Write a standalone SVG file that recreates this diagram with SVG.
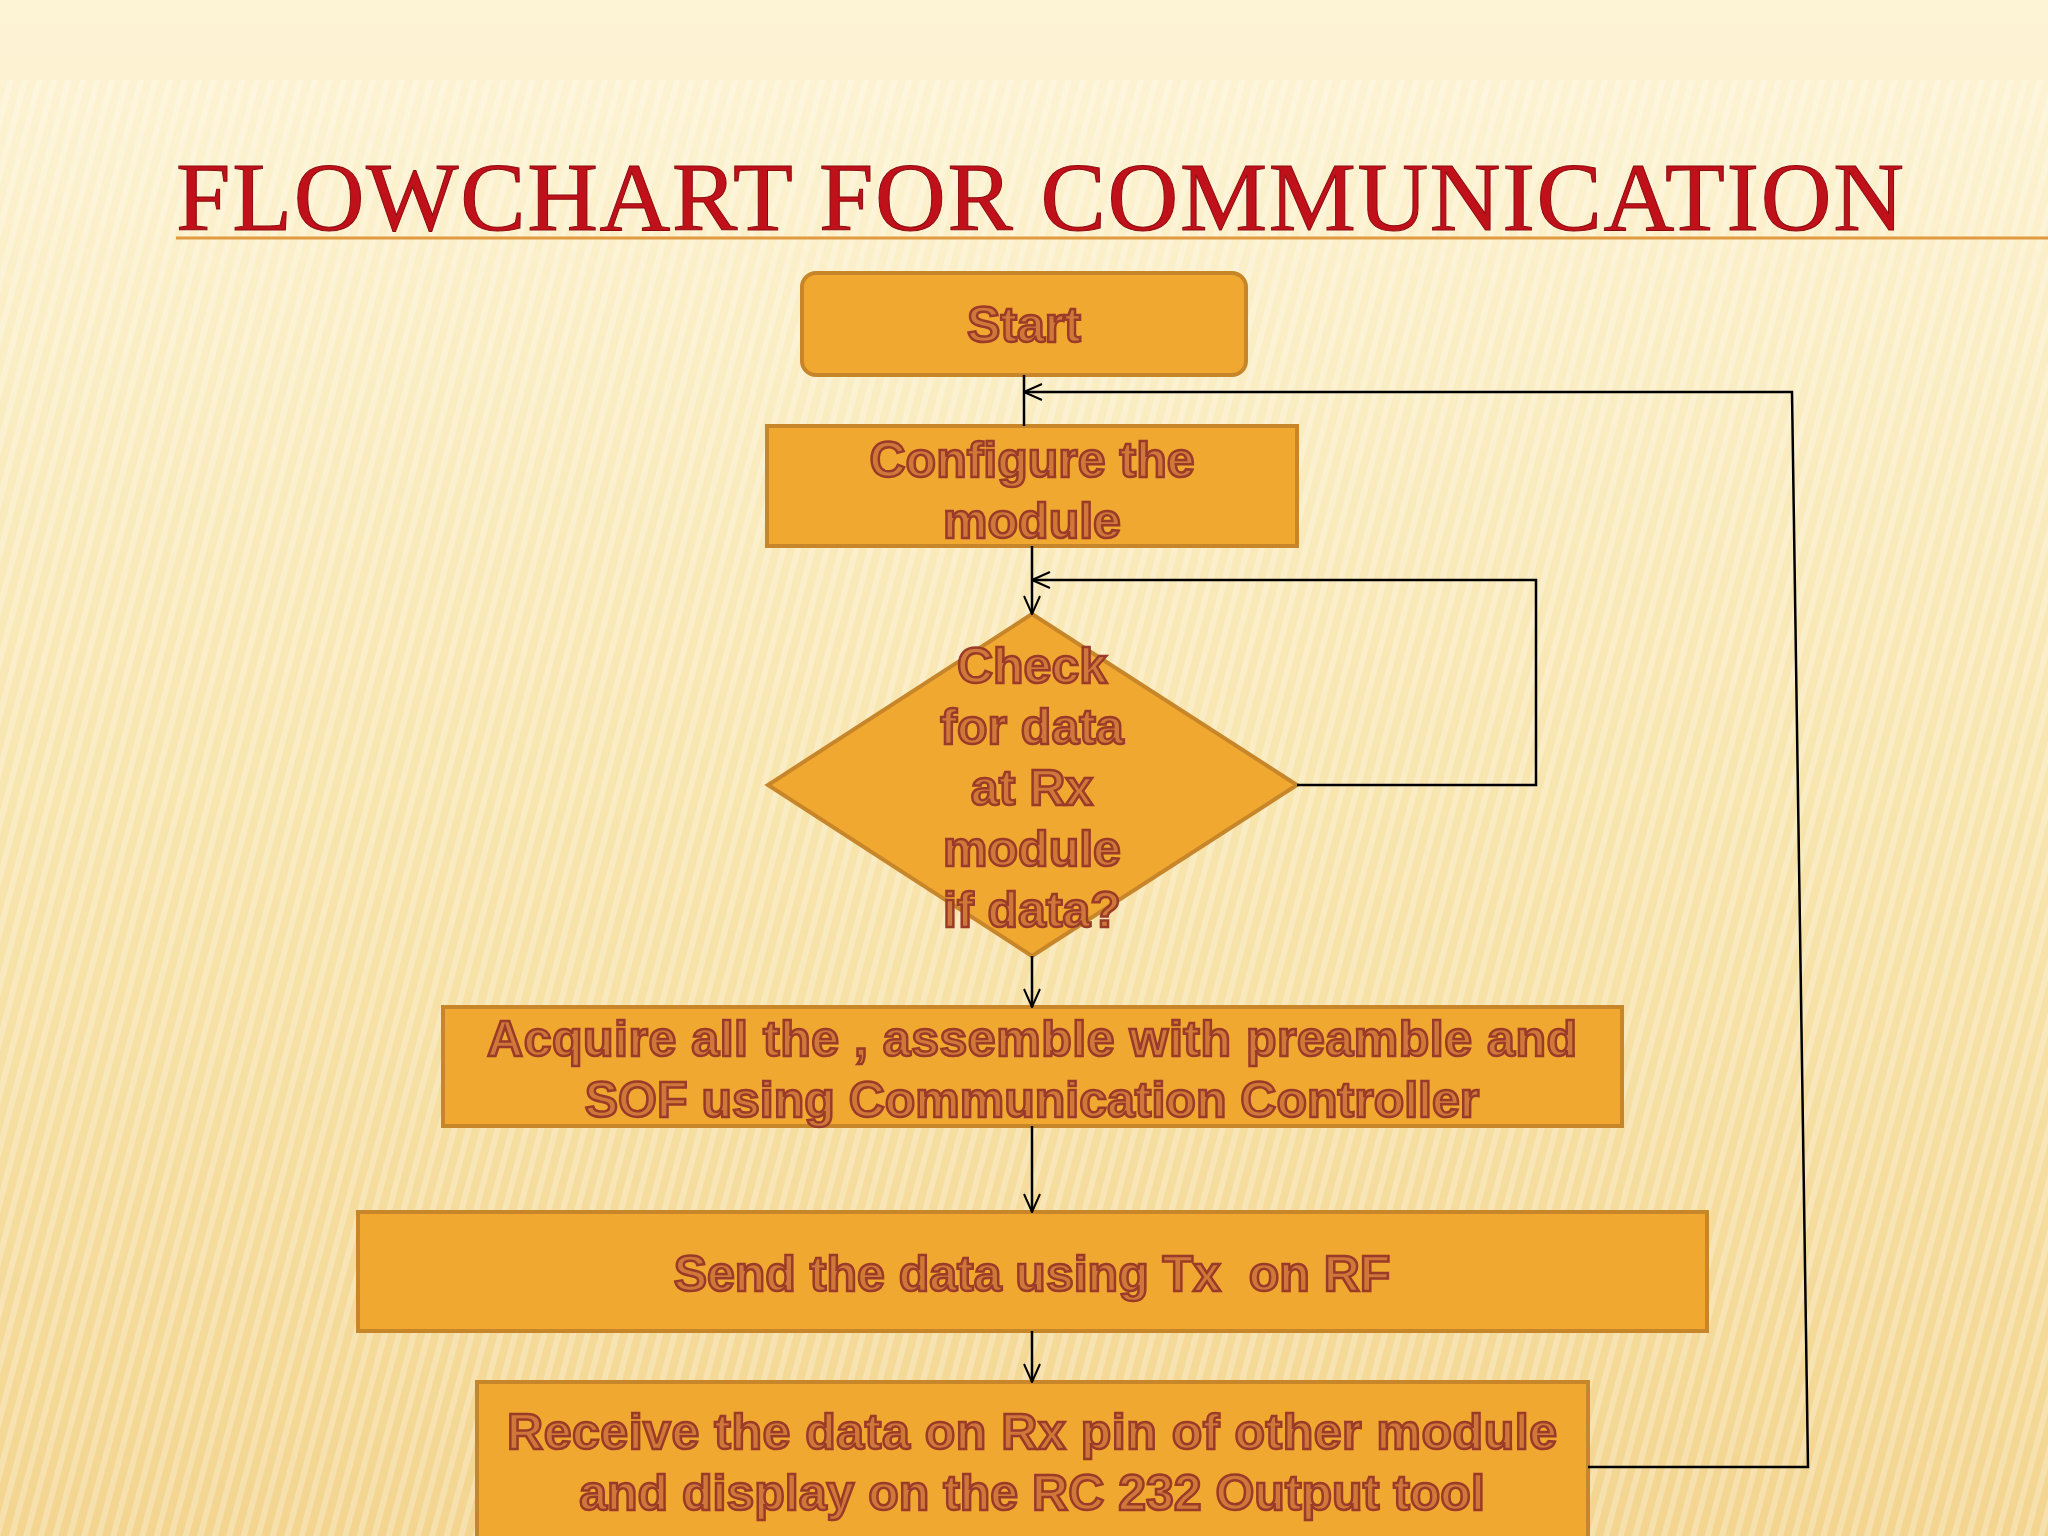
<svg xmlns="http://www.w3.org/2000/svg" width="2048" height="1536" viewBox="0 0 2048 1536">
<defs>
<linearGradient id="bg" x1="0" y1="0" x2="0" y2="1">
<stop offset="0" stop-color="#fdf4d6"/><stop offset="0.5" stop-color="#f8e6b0"/><stop offset="1" stop-color="#f3d590"/>
</linearGradient>
<pattern id="stripes" width="14" height="14" patternUnits="userSpaceOnUse" patternTransform="rotate(15)">
<rect width="6" height="14" fill="#ffffff" opacity="0.25"/>
</pattern>
<marker id="ah" viewBox="0 0 20 20" refX="19" refY="10" markerWidth="20" markerHeight="20" markerUnits="userSpaceOnUse" orient="auto">
<path d="M1,2 L19,10 L1,18" fill="none" stroke="#000" stroke-width="2"/>
</marker>
<style>
.box{fill:#f0a830;stroke:#c8862a;stroke-width:4}
.t{font-family:"Liberation Sans",Arial,sans-serif;font-weight:bold;font-size:50px;fill:#d0783a;stroke:#9a3a28;stroke-width:2.5;text-anchor:middle}
.c{fill:none;stroke:#000;stroke-width:2.5}
</style>
</defs>
<rect width="2048" height="1536" fill="url(#bg)"/>
<rect y="80" width="2048" height="1456" fill="url(#stripes)"/>
<line x1="176" y1="238" x2="2048" y2="238" stroke="#e09a40" stroke-width="3"/>
<text x="1040" y="230" text-anchor="middle" font-family="Liberation Serif,serif" font-size="98" fill="#c0101a" stroke="#8a0a10" stroke-width="1" textLength="1728">FLOWCHART FOR COMMUNICATION</text>
<g id="start"><rect class="box" x="802" y="273" width="444" height="102" rx="14"/><text class="t" x="1024" y="342">Start</text></g>
<g id="configure"><rect class="box" x="767" y="426" width="530" height="120"/><text class="t" x="1032" y="477">Configure the</text><text class="t" x="1032" y="538">module</text></g>
<g id="check"><polygon class="box" points="1032,614 1297,785 1032,956 768,785"/>
<text class="t" x="1032" y="683">Check</text><text class="t" x="1032" y="744">for data</text><text class="t" x="1032" y="805">at Rx</text><text class="t" x="1032" y="866">module</text><text class="t" x="1032" y="927">if data?</text></g>
<g id="acquire"><rect class="box" x="443" y="1007" width="1179" height="119"/><text class="t" x="1032" y="1056" textLength="1090">Acquire all the , assemble with preamble and</text><text class="t" x="1032" y="1117">SOF using Communication Controller</text></g>
<g id="send"><rect class="box" x="358" y="1212" width="1349" height="119"/><text class="t" x="1032" y="1291" xml:space="preserve">Send the data using Tx  on RF</text></g>
<g id="receive"><rect class="box" x="477" y="1382" width="1111" height="160"/><text class="t" x="1032" y="1449" textLength="1050">Receive the data on Rx pin of other module</text><text class="t" x="1032" y="1510">and display on the RC 232 Output tool</text></g>
<g id="connectors">
<line class="c" x1="1024" y1="375" x2="1024" y2="426"/>
<polyline class="c" points="1588,1467 1808,1467 1792,392 1024,392" marker-end="url(#ah)"/>
<line class="c" x1="1032" y1="546" x2="1032" y2="614" marker-end="url(#ah)"/>
<polyline class="c" points="1297,785 1536,785 1536,580 1032,580" marker-end="url(#ah)"/>
<line class="c" x1="1032" y1="956" x2="1032" y2="1007" marker-end="url(#ah)"/>
<line class="c" x1="1032" y1="1126" x2="1032" y2="1212" marker-end="url(#ah)"/>
<line class="c" x1="1032" y1="1331" x2="1032" y2="1382" marker-end="url(#ah)"/>
</g>
</svg>
